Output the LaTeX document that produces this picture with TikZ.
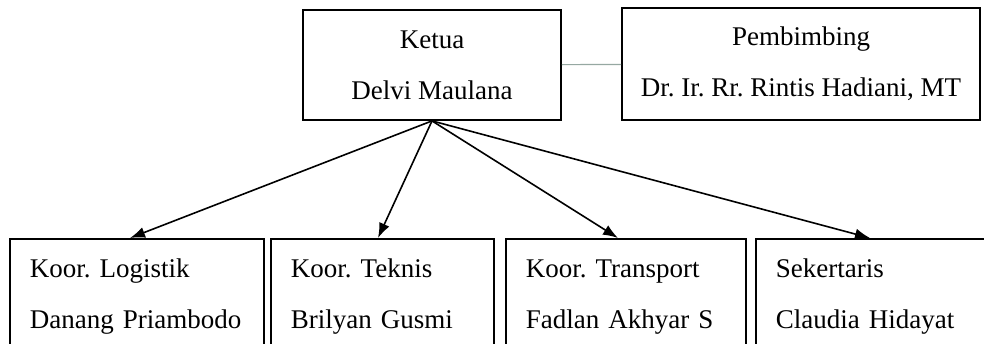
\documentclass[tikz,border=0pt]{standalone}
\usepackage{fontspec}
\setmainfont{Liberation Serif}
\usetikzlibrary{arrows.meta, positioning}
\frenchspacing

\definecolor{linkgray}{RGB}{150,168,162}

\begin{document}
\begin{tikzpicture}[x=1pt, y=-1pt,
  every node/.style={font=\fontsize{27}{51}\selectfont},
  box/.style={draw, line width=1.8pt, rectangle, inner ysep=0pt},
  topbox/.style={box, align=center, minimum height=110pt},
  unitbox/.style={box, align=left, inner xsep=20pt, minimum height=116pt, anchor=north west},
  arr/.style={-{Latex[length=15pt, width=11pt]}, line width=1.6pt}]
\clip (0,0) rectangle (984,343);

\node (ketua) [topbox, minimum width=258pt] at (432,65) {Ketua\\Delvi Maulana};
\node (pembimbing) [topbox, minimum width=358pt, minimum height=112pt] at (801,64) {Pembimbing\\Dr. Ir. Rr. Rintis Hadiani, MT};

\node (logistik) [unitbox, text width=214pt] at (9,238) {Koor. Logistik\\Danang Priambodo};
\node (teknis) [unitbox, text width=183pt] at (270,238) {Koor. Teknis\\Brilyan Gusmi};
\node (transport) [unitbox, text width=200pt] at (505,238) {Koor. Transport\\Fadlan Akhyar S};
\node (sekretaris) [unitbox, text width=200pt] at (755,238) {Sekertaris\\Claudia Hidayat};

\draw[linkgray, line width=1.2pt] (ketua) -- (pembimbing);

\draw[arr] (ketua.south) -- ([xshift=121pt]logistik.north west);
\draw[arr] (ketua.south) -- ([xshift=108pt]teknis.north west);
\draw[arr] (ketua.south) -- ([xshift=113pt]transport.north west);
\draw[arr] (ketua.south) -- ([xshift=115pt]sekretaris.north west);
\end{tikzpicture}
\end{document}
